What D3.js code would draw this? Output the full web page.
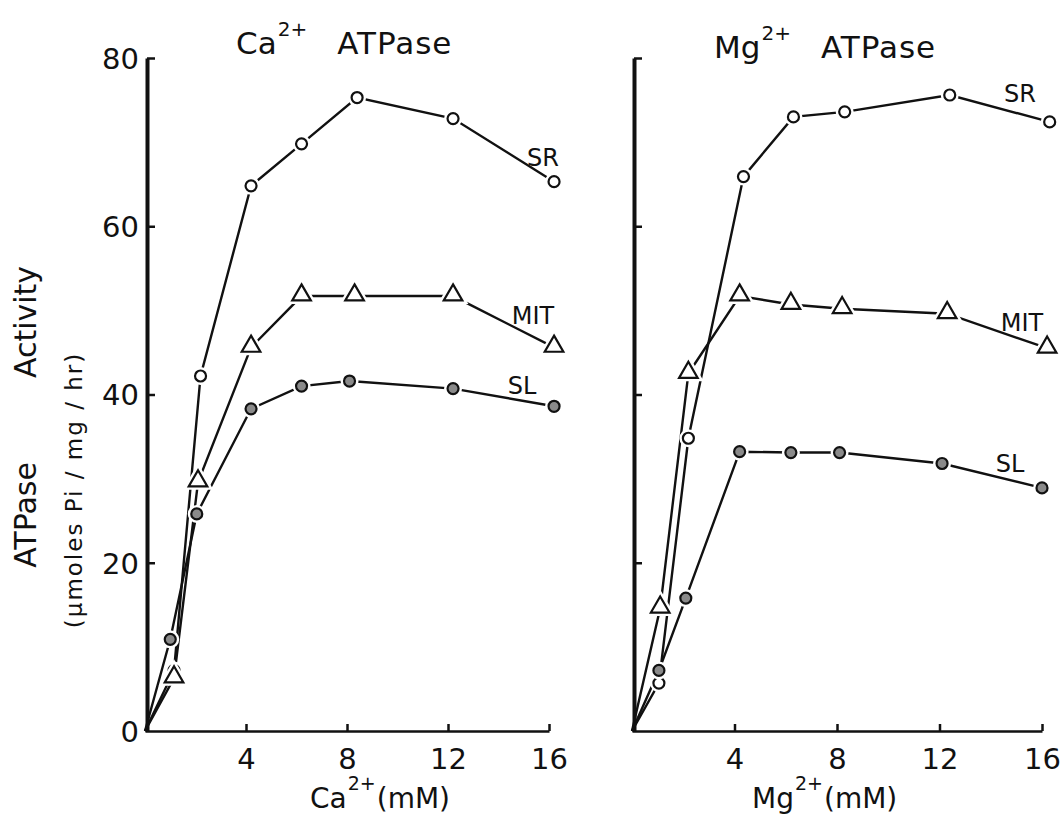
<!DOCTYPE html>
<meta charset="utf-8">
<html>
<head>
    <style>
        body {
            margin: 0;
            background: #fff;
        }
        svg text {
            font-family: 'DejaVu Sans', sans-serif;
            fill: #111;
        }
        .axis text {
            font-size: 29px;
        }
        .line {
            fill: none;
            stroke: #111;
            stroke-width: 2.4;
        }
        .lbl {
            font-size: 24px;
        }
    </style>
</head>
<body>
    <svg id="chart"></svg>

    <script src="https://cdnjs.cloudflare.com/ajax/libs/d3/7.8.5/d3.min.js"></script>
    <script>

        // Ca2+ ATPase (left panel) - concentration in mM and activity values
        var caSRx  = [0, 1.15, 2.2, 4.2, 6.2, 8.4, 12.2, 16.2];
        var caSR   = [0, 7.2, 42.2, 64.8, 69.8, 75.3, 72.8, 65.3];
        var caMITx = [0, 1.15, 2.1, 4.2, 6.2, 8.3, 12.2, 16.2];
        var caMIT  = [0, 6.3, 29.6, 45.6, 51.7, 51.7, 51.7, 45.6];
        var caSLx  = [0, 1.0, 2.05, 4.2, 6.2, 8.1, 12.2, 16.2];
        var caSL   = [0, 10.9, 25.8, 38.3, 41.0, 41.6, 40.7, 38.6];

        // Mg2+ ATPase (right panel)
        var mgSRx  = [0, 1.05, 2.2, 4.35, 6.3, 8.3, 12.4, 16.3];
        var mgSR   = [0, 5.7, 34.8, 65.9, 73.0, 73.6, 75.6, 72.4];
        var mgMITx = [0, 1.1, 2.2, 4.2, 6.2, 8.2, 12.3, 16.2];
        var mgMIT  = [0, 14.6, 42.5, 51.7, 50.7, 50.2, 49.6, 45.5];
        var mgSLx  = [0, 1.05, 2.1, 4.2, 6.2, 8.1, 12.1, 16.0];
        var mgSL   = [0, 7.2, 15.8, 33.2, 33.1, 33.1, 31.8, 28.9];

        var xTicks = [4, 8, 12, 16];
        var yTicks = [0, 20, 40, 60, 80];

        var width = 1062, height = 825;

        var svg = d3.select("#chart")
            .attr("width", width)
            .attr("height", height);

        // same y scale for both panels
        var y = d3.scaleLinear().domain([0, 80]).range([731, 58]);

        var panels = [
            {
                x: d3.scaleLinear().domain([0, 16]).range([145, 549]),
                showYLabels: true,
                series: [
                    { name: "SR", xs: caSRx, ys: caSR, mark: "open", lx: 543, ly: 166 },
                    { name: "MIT", xs: caMITx, ys: caMIT, mark: "tri", lx: 533, ly: 324 },
                    { name: "SL", xs: caSLx, ys: caSL, mark: "shaded", lx: 522, ly: 394 }
                ],
                title: ["Ca", "2+", "ATPase"], titleX: 236, titleY: 54,
                xlab: ["Ca", "2+", "(mM)"], xlabX: 310, xlabY: 808
            },
            {
                x: d3.scaleLinear().domain([0, 16]).range([632, 1042]),
                showYLabels: false,
                series: [
                    { name: "SR", xs: mgSRx, ys: mgSR, mark: "open", lx: 1020, ly: 102 },
                    { name: "MIT", xs: mgMITx, ys: mgMIT, mark: "tri", lx: 1022, ly: 331 },
                    { name: "SL", xs: mgSLx, ys: mgSL, mark: "shaded", lx: 1010, ly: 472 }
                ],
                title: ["Mg", "2+", "ATPase"], titleX: 714, titleY: 58,
                xlab: ["Mg", "2+", "(mM)"], xlabX: 752, xlabY: 808
            }
        ];

        panels.forEach(function (p) {
            var g = svg.append("g");

            // y axis
            var yAxis = d3.axisLeft(y)
                .tickValues(yTicks)
                .tickSize(-8)
                .tickSizeOuter(0)
                .tickPadding(8)
                .tickFormat(p.showYLabels ? d3.format("d") : "");
            var ya = g.append("g")
                .attr("class", "axis")
                .attr("transform", "translate(" + (p.x.range()[0] + 2) + ",0)")
                .call(yAxis);
            ya.select(".domain").attr("stroke-width", 4).attr("stroke", "#111");
            ya.selectAll(".tick line").attr("stroke-width", 2.5).attr("stroke", "#111")
                .filter(function (d) { return d == 0; }).remove();
            ya.selectAll(".tick text").attr("dy", "0.36em");

            // x axis
            var xAxis = d3.axisBottom(p.x)
                .tickValues(xTicks)
                .tickSize(-7)
                .tickSizeOuter(0)
                .tickPadding(12);
            var xa = g.append("g")
                .attr("class", "axis")
                .attr("transform", "translate(0," + y(0) + ")")
                .call(xAxis);
            xa.select(".domain").attr("stroke-width", 2.5).attr("stroke", "#111");
            xa.selectAll(".tick line").attr("stroke-width", 2.5).attr("stroke", "#111");
            xa.selectAll(".tick text").attr("dy", "0.9em");

            // lines
            var line = d3.line()
                .x(function (d) { return p.x(d[0]); })
                .y(function (d) { return y(d[1]); });

            p.series.forEach(function (s) {
                var pts = s.xs.map(function (v, i) { return [v, s.ys[i]]; });
                g.append("path")
                    .datum(pts)
                    .attr("class", "line")
                    .attr("d", line);
            });

            // markers (skip origin), white halo gives the small gaps at each point
            p.series.forEach(function (s) {
                var pts = s.xs.map(function (v, i) { return [v, s.ys[i]]; }).slice(1);
                var sym = s.mark == "tri"
                    ? d3.symbol(d3.symbolTriangle, 150)
                    : d3.symbol(d3.symbolCircle, 95);
                [["#fff", 7], ["#111", 2.2]].forEach(function (st) {
                    g.selectAll(null)
                        .data(pts)
                        .enter()
                        .append("path")
                        .attr("d", sym)
                        .attr("transform", function (d) {
                            var dy = s.mark == "tri" ? -1 : 0;
                            return "translate(" + p.x(d[0]) + "," + (y(d[1]) + dy) + ")";
                        })
                        .attr("fill", s.mark == "shaded" ? "#8a8a8a" : "#fff")
                        .attr("stroke", st[0])
                        .attr("stroke-width", st[1]);
                });

                g.append("text")
                    .attr("class", "lbl")
                    .attr("x", s.lx)
                    .attr("y", s.ly)
                    .attr("text-anchor", "middle")
                    .text(s.name);
            });

            // panel title
            var t = g.append("text")
                .attr("x", p.titleX)
                .attr("y", p.titleY)
                .style("font-size", "31px");
            t.append("tspan").text(p.title[0]);
            t.append("tspan").attr("dy", -18).attr("dx", 1).style("font-size", "20px").text(p.title[1]);
            t.append("tspan").attr("dy", 18).attr("dx", 30).attr("letter-spacing", 1).text(p.title[2]);

            // x axis label
            var xl = g.append("text")
                .attr("x", p.xlabX)
                .attr("y", p.xlabY)
                .style("font-size", "28px");
            xl.append("tspan").text(p.xlab[0]);
            xl.append("tspan").attr("dy", -18).attr("dx", 1).style("font-size", "19px").text(p.xlab[1]);
            xl.append("tspan").attr("dy", 18).attr("dx", 1).text(p.xlab[2]);
        });

        // y axis title
        svg.append("text")
            .attr("transform", "translate(36,515) rotate(-90)")
            .attr("text-anchor", "middle")
            .style("font-size", "30px")
            .text("ATPase");
        svg.append("text")
            .attr("transform", "translate(36,322) rotate(-90)")
            .attr("text-anchor", "middle")
            .style("font-size", "30px")
            .text("Activity");
        svg.append("text")
            .attr("transform", "translate(82,490) rotate(-90)")
            .attr("text-anchor", "middle")
            .style("font-size", "23px")
            .attr("letter-spacing", 2)
            .text("(μmoles Pi / mg / hr)");

    </script>
</body>
</html>
